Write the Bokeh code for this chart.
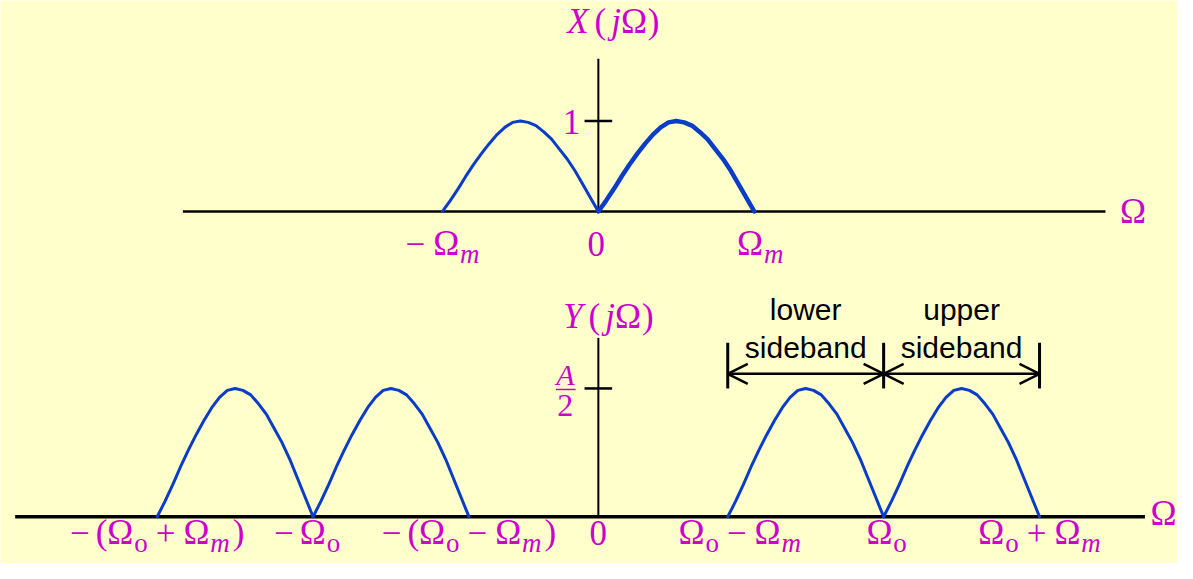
from bokeh.plotting import figure
from bokeh.models import Range1d, Label, Arrow, OpenHead
from bokeh.embed import file_html
from bokeh.resources import INLINE

# ---------------- data ----------------
OMEGA_M = 1.0          # modulating bandwidth (unit)
OMEGA_O = 1.83         # carrier frequency in units of Omega_m
PEAK_X = 1.0           # |X(jΩ)| peak
PEAK_Y = 1.0           # |Y(jΩ)| peak (A/2)

# hump profile: fraction across one hump -> level
hump_frac = [0.0, 0.05, 0.1, 0.15, 0.2, 0.25, 0.3, 0.35, 0.4, 0.45, 0.5,
             0.55, 0.6, 0.65, 0.7, 0.75, 0.8, 0.85, 0.9, 0.95, 1.0]
hump_level = [0.0, 0.12, 0.25, 0.39, 0.52, 0.64, 0.75, 0.85, 0.93, 0.985, 1.0,
              0.985, 0.95, 0.88, 0.8, 0.69, 0.58, 0.45, 0.3, 0.15, 0.0]

# where each hump starts (in units of Omega_m)
top_hump_starts = [-OMEGA_M, 0.0]
bottom_hump_starts = [-(OMEGA_O + OMEGA_M), -OMEGA_O, OMEGA_O - OMEGA_M, OMEGA_O]
top_hump_widths = [3, 4.5]

band_edges = [OMEGA_O - OMEGA_M, OMEGA_O, OMEGA_O + OMEGA_M]
band_names = [("lower", "sideband"), ("upper", "sideband")]

# ---------------- style ----------------
BG = "#FFFFCC"
MAG = "#CC00CC"
BLUE = "#0A3CC8"
SERIF = "Liberation Serif"
SANS = "Liberation Sans"

W_PX, H_PX = 1177, 563
PPU_T = 90.43     # px per unit, top panel
PPU_B = 128.35    # px per unit, bottom panel

p = figure(width=W_PX, height=H_PX,
           x_range=Range1d(-3.835, 3.715), y_range=Range1d(-0.364, 4.023),
           output_backend="svg", toolbar_location=None, min_border=0,
           x_axis_type=None, y_axis_type=None,
           background_fill_color=BG, border_fill_color=BG,
           outline_line_color=None)
p.grid.visible = False
p.extra_y_ranges = {"top": Range1d(-3.893, 2.333)}

PPU = {"top": PPU_T, "default": PPU_B}
BASE_CORR = 0.33   # lift so that text sits on its baseline


def lab(x, y, text, size, rng="default", font=SERIF, style="normal", color=MAG,
        align="left", xo=0.0):
    p.add_layout(Label(x=x, y=y + BASE_CORR * size / PPU[rng], x_offset=xo,
                       y_range_name=rng, text=text, text_font=font,
                       text_font_size=f"{size}px", text_font_style=style,
                       text_color=color, text_align=align,
                       text_baseline="alphabetic"))


WID = {"Ω": 0.768, "o": 0.5, "m": 0.722, "−": 0.564, "+": 0.564, "(": 0.333,
       ")": 0.333, "0": 0.5, "1": 0.5, "2": 0.5, "X": 0.611, "Y": 0.556,
       "j": 0.278, "A": 0.611}
MAIN = 35
SUB = 27


def math(x, y, pieces, rng="default", dx=0.0, sub_shift=10):
    """pieces: tuples (text, italic, sub) or numbers (gap in px)."""
    total = 0.0
    for pc in pieces:
        if isinstance(pc, (int, float)):
            total += pc
        else:
            t, it, sb = pc
            total += WID[t] * (SUB if sb else MAIN)
    cur = -total / 2 + dx
    for pc in pieces:
        if isinstance(pc, (int, float)):
            cur += pc
            continue
        t, it, sb = pc
        size = SUB if sb else MAIN
        lab(x, y - (sub_shift / PPU[rng] if sb else 0.0), t, size, rng=rng,
            style="italic" if it else "normal", xo=cur)
        cur += WID[t] * size


W = ("Ω", False, False)
o_ = ("o", False, True)
m_ = ("m", True, True)
MINUS = ("−", False, False)
PLUS = ("+", False, False)
LP = ("(", False, False)
RP = (")", False, False)
ZERO = ("0", False, False)

# ---------------- top: X(jΩ) ----------------
T = "top"
p.segment(x0=[-2.665], y0=[0], x1=[3.253], y1=[0], line_color="black", line_width=2.5, y_range_name=T)
p.segment(x0=[0], y0=[0], x1=[0], y1=[1.688], line_color="black", line_width=2, y_range_name=T)
p.segment(x0=[-0.0886], y0=[PEAK_X], x1=[0.0886], y1=[PEAK_X], line_color="black", line_width=2.5, y_range_name=T)
for s, lw in zip(top_hump_starts, top_hump_widths):
    p.line([s + f * OMEGA_M for f in hump_frac], [v * PEAK_X for v in hump_level],
           line_color=BLUE, line_width=lw, line_join="round", line_cap="round", y_range_name=T)

math(0.0, 1.968, [("X", True, False), 6, LP, 5, ("j", True, False), W, RP], rng=T, dx=15)
lab(0.0, 0.86, "1", MAIN, rng=T, align="right", xo=-18)
math(-OMEGA_M, -0.484, [MINUS, 8, W, m_], rng=T, sub_shift=8)
math(0.0, -0.484, [ZERO], rng=T, dx=-2)
math(OMEGA_M, -0.484, [W, m_], rng=T, dx=6, sub_shift=8)
math(3.253, -0.129, [W], rng=T, dx=28)

# ---------------- bottom: Y(jΩ) ----------------
p.segment(x0=[-3.741], y0=[0], x1=[3.506], y1=[0], line_color="black", line_width=3.5)
p.segment(x0=[0], y0=[0], x1=[0], y1=[1.394], line_color="black", line_width=2)
p.segment(x0=[-0.0886], y0=[PEAK_Y], x1=[0.0886], y1=[PEAK_Y], line_color="black", line_width=2.5)
for s in bottom_hump_starts:
    p.line([s + f * OMEGA_M for f in hump_frac], [v * PEAK_Y for v in hump_level],
           line_color=BLUE, line_width=3, line_join="round", line_cap="round")

math(0.0, 1.47, [("Y", True, False), 6, LP, 5, ("j", True, False), W, RP], dx=10)
# A/2 fraction
lab(0.0, 1.03, "A", 30, style="italic", align="center", xo=-33)
lab(0.0, 0.788, "2", 32, align="center", xo=-33)
p.segment(x0=[-43 / 158], y0=[0.992], x1=[-23 / 158], y1=[0.992], line_color=MAG, line_width=1.5)

TL = -0.215
SS = 8
math(-(OMEGA_O + OMEGA_M), TL, [MINUS, 6, LP, W, o_, 8, PLUS, 8, W, m_, 3, RP], sub_shift=SS)
math(-OMEGA_O, TL, [MINUS, 6, W, o_], dx=-6, sub_shift=SS)
math(-(OMEGA_O - OMEGA_M), TL, [MINUS, 6, LP, W, o_, 8, MINUS, 8, W, m_, 3, RP], sub_shift=SS)
math(0.0, TL, [ZERO])
math(OMEGA_O - OMEGA_M, TL, [W, o_, 8, MINUS, 8, W, m_], dx=12, sub_shift=SS)
math(OMEGA_O, TL, [W, o_], dx=3, sub_shift=SS)
math(OMEGA_O + OMEGA_M, TL, [W, o_, 8, PLUS, 8, W, m_], sub_shift=SS)
math(3.506, -0.068, [W], dx=19)

# sideband markers
p.segment(x0=band_edges, y0=[1.0] * 3, x1=band_edges, y1=[1.356] * 3,
          line_color="black", line_width=3)
for i, (l1, l2) in enumerate(band_names):
    a, b = band_edges[i], band_edges[i + 1]
    p.add_layout(Arrow(x_start=a, y_start=1.114, x_end=b, y_end=1.114,
                       start=OpenHead(size=20, line_width=2.5, line_color="black"),
                       end=OpenHead(size=20, line_width=2.5, line_color="black"),
                       line_width=2.5, line_color="black"))
    mid = (a + b) / 2
    for txt, yy in ((l1, 1.538), (l2, 1.242)):
        lab(mid, yy, txt, 30, font=SANS, color="black", align="center")

open("out.html", "w").write(file_html(p, INLINE))
